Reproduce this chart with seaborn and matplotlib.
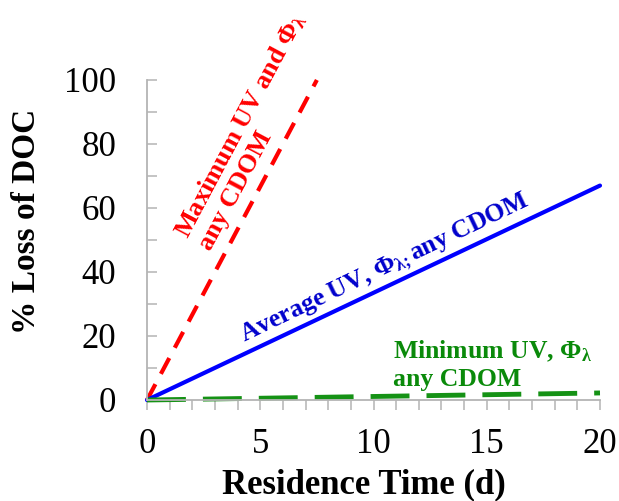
import matplotlib
matplotlib.use("Agg")
import matplotlib.pyplot as plt
import seaborn as sns
import pandas as pd
from matplotlib.ticker import MultipleLocator

# Residence time (d) and % loss of DOC for the three photochemical scenarios
max_days = [0, 7.5]
max_loss = [0, 100]
avg_days = [0, 20]
avg_loss = [0, 67]
min_days = [0, 20]
min_loss = [0, 2.2]

sns.set_style("white")
plt.rcParams["font.family"] = ["Liberation Serif", "DejaVu Serif"]
plt.rcParams["mathtext.fontset"] = "custom"
plt.rcParams["mathtext.rm"] = "Liberation Serif:bold"
plt.rcParams["mathtext.it"] = "Liberation Serif:bold"
plt.rcParams["mathtext.bf"] = "Liberation Serif:bold"

fig = plt.figure(figsize=(6.19, 5.01), dpi=100)
ax = fig.add_axes([0.2375, 0.2016, 0.7318, 0.6388])

df_max = pd.DataFrame({"days": max_days, "loss": max_loss})
df_avg = pd.DataFrame({"days": avg_days, "loss": avg_loss})
df_min = pd.DataFrame({"days": min_days, "loss": min_loss})

sns.lineplot(data=df_max, x="days", y="loss", ax=ax, color="#ff0000",
             linewidth=3)
ax.lines[-1].set_dashes([4.3, 2.8])
sns.lineplot(data=df_avg, x="days", y="loss", ax=ax, color="#0000ff",
             linewidth=3)
sns.lineplot(data=df_min, x="days", y="loss", ax=ax, color="#159215",
             linewidth=3.5)
ax.lines[-1].set_dashes([8, 3.5])
for ln in ax.lines:
    ln.set_clip_on(False)

ax.set_xlim(0, 20)
ax.set_ylim(0, 100)
ax.xaxis.set_major_locator(MultipleLocator(5))
ax.xaxis.set_minor_locator(MultipleLocator(1))
ax.yaxis.set_major_locator(MultipleLocator(20))
ax.yaxis.set_minor_locator(MultipleLocator(10))

for s in ["top", "right"]:
    ax.spines[s].set_visible(False)
for s in ["left", "bottom"]:
    ax.spines[s].set_color("#b4b4b4")
    ax.spines[s].set_linewidth(1.3)

ax.tick_params(axis="x", which="both", direction="out", length=7, width=1.1,
               color="#b4b4b4", labelsize=25, pad=13, bottom=True,
               labelcolor="black")
ax.tick_params(axis="y", which="both", direction="in", length=7, width=1.1,
               color="#b4b4b4", labelsize=25, pad=22, left=True,
               labelcolor="black")

ax.set_xlabel("Residence Time (d)", fontsize=25, fontweight="bold",
              color="black")
ax.xaxis.set_label_coords(0.479, -0.2125)
ax.set_ylabel("% Loss of DOC", fontsize=24, fontweight="bold", color="black")
ax.yaxis.set_label_coords(-0.232, 0.559)

ax.text(4.6, 84, "Maximum UV and $\\Phi_\\lambda$\nany CDOM", color="#ff0000",
        fontsize=19, fontweight="bold", rotation=62, ha="center", va="center",
        multialignment="left", clip_on=False, linespacing=1.1)
ax.text(10.5, 41, "Average UV, $\\Phi_{\\lambda;}$any CDOM", color="#0000cc",
        fontsize=18.5, fontweight="bold", rotation=25.6, ha="center",
        va="center")
ax.text(10.85, 11, "Minimum UV, $\\Phi_\\lambda$\nany CDOM", color="#0a8a0a",
        fontsize=18.5, fontweight="bold", ha="left", va="center",
        multialignment="left", linespacing=1.2)

fig.savefig("out.png", dpi=100)
